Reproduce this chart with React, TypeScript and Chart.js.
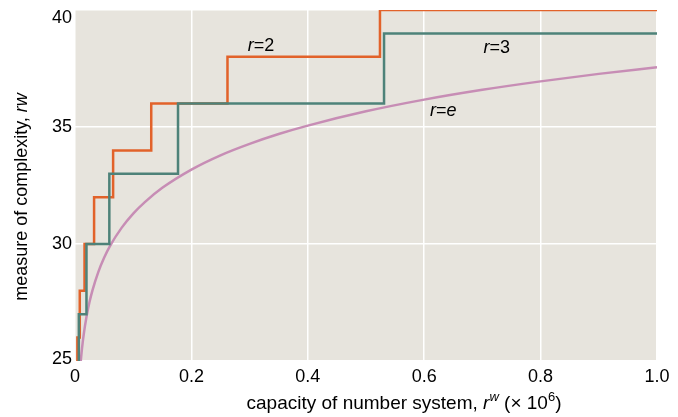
import React, { useEffect, useRef } from 'react';
import { Chart, registerables } from 'chart.js';

Chart.register(...registerables);

// r = 2 : capacity (x 10^6) at which complexity r*w rises to the listed value
const r2Capacity = [0, 0.0041, 0.0082, 0.0164, 0.0328, 0.0655, 0.131, 0.262, 0.524, 1.0];
const r2Complexity = [24, 26, 28, 30, 32, 34, 36, 38, 40, 40];

// r = 3
const r3Capacity = [0, 0.0066, 0.0197, 0.059, 0.177, 0.531, 1.0];
const r3Complexity = [24, 27, 30, 33, 36, 39, 39];

// r = e (smooth curve)
const reCapacity = [0.0099, 0.012, 0.015, 0.02, 0.025, 0.03, 0.04, 0.05, 0.06, 0.08, 0.1, 0.12, 0.15, 0.2, 0.25, 0.3, 0.35, 0.4, 0.5, 0.6, 0.7, 0.8, 0.9, 1.0];
const reComplexity = [25.0, 25.53, 26.14, 26.92, 27.53, 28.02, 28.8, 29.41, 29.91, 30.69, 31.3, 31.79, 32.4, 33.18, 33.79, 34.28, 34.7, 35.06, 35.67, 36.17, 36.59, 36.95, 37.27, 37.55];

const xTicks = [0, 0.2, 0.4, 0.6, 0.8, 1.0];
const xTickLabels = ['0', '0.2', '0.4', '0.6', '0.8', '1.0'];
const yTicks = [25, 30, 35, 40];
const yTickLabels = ['25', '30', '35', '40'];

const FONT = '"Liberation Sans", Arial, Helvetica, sans-serif';
const BG = '#e7e4dd';
const ORANGE = '#e2622a';
const TEAL = '#4e8279';
const PINK = '#c78db5';

type Seg = { t: string; i?: boolean; sup?: boolean };

function segFont(s: Seg, size: number) {
  const sz = s.sup ? Math.round(size * 0.7) : size;
  return `${s.i ? 'italic ' : ''}${sz}px ${FONT}`;
}

function drawRich(ctx: CanvasRenderingContext2D, segs: Seg[], x: number, y: number, size: number, align: 'left' | 'center') {
  let w = 0;
  for (const s of segs) {
    ctx.font = segFont(s, size);
    w += ctx.measureText(s.t).width;
  }
  let cx = align === 'center' ? x - w / 2 : x;
  ctx.textAlign = 'left';
  ctx.textBaseline = 'alphabetic';
  for (const s of segs) {
    ctx.font = segFont(s, size);
    ctx.fillText(s.t, cx, s.sup ? y - size * 0.4 : y);
    cx += ctx.measureText(s.t).width;
  }
}

const decorPlugin = {
  id: 'decor',
  beforeDraw(chart: any) {
    const { ctx, chartArea } = chart;
    ctx.save();
    ctx.fillStyle = BG;
    ctx.fillRect(chartArea.left, chartArea.top, chartArea.right - chartArea.left, chartArea.bottom - chartArea.top);
    ctx.restore();
  },
  afterDraw(chart: any) {
    const { ctx, chartArea } = chart;
    const xs = chart.scales.x;
    const ys = chart.scales.y;
    ctx.save();
    ctx.fillStyle = '#000';
    // y tick labels
    ctx.font = `18px ${FONT}`;
    ctx.textAlign = 'right';
    ctx.textBaseline = 'middle';
    yTicks.forEach((v, i) => {
      let p = ys.getPixelForValue(v);
      p = Math.min(Math.max(p, chartArea.top + 8), chartArea.bottom - 2);
      ctx.fillText(yTickLabels[i], chartArea.left - 3, p);
    });
    // x title
    drawRich(
      ctx,
      [
        { t: 'capacity of number system, ' },
        { t: 'r', i: true },
        { t: 'w', i: true, sup: true },
        { t: ' (\u00d7 10' },
        { t: '6', sup: true },
        { t: ')' },
      ],
      404,
      409,
      19,
      'center'
    );
    // y title
    ctx.save();
    ctx.translate(27, 197);
    ctx.rotate(-Math.PI / 2);
    drawRich(ctx, [{ t: 'measure of complexity, ' }, { t: 'rw', i: true }], 0, 0, 18, 'center');
    ctx.restore();
    // series annotations
    drawRich(ctx, [{ t: 'r', i: true }, { t: '=2' }], xs.getPixelForValue(0.297), ys.getPixelForValue(38.5) + 6, 18, 'left');
    drawRich(ctx, [{ t: 'r', i: true }, { t: '=3' }], xs.getPixelForValue(0.702), ys.getPixelForValue(38.41) + 6, 18, 'left');
    drawRich(ctx, [{ t: 'r', i: true }, { t: '=' }, { t: 'e', i: true }], xs.getPixelForValue(0.61), ys.getPixelForValue(35.71) + 6, 18, 'left');
    ctx.restore();
  },
};

export default function App() {
  const ref = useRef<HTMLCanvasElement | null>(null);
  useEffect(() => {
    document.body.style.margin = '0';
    const canvas = ref.current;
    if (!canvas) return;
    const toPts = (xs: number[], ys: number[]) => xs.map((x, i) => ({ x, y: ys[i] }));
    const chart = new Chart(canvas, {
      type: 'line',
      data: {
        datasets: [
          {
            label: 'r=3',
            data: toPts(r3Capacity, r3Complexity),
            borderColor: TEAL,
            borderWidth: 2.5,
            pointRadius: 0,
            stepped: 'before',
            fill: false,
            order: 0,
          },
          {
            label: 'r=2',
            data: toPts(r2Capacity, r2Complexity),
            borderColor: ORANGE,
            borderWidth: 2.5,
            pointRadius: 0,
            stepped: 'before',
            fill: false,
            order: 1,
          },
          {
            label: 'r=e',
            data: toPts(reCapacity, reComplexity),
            borderColor: PINK,
            borderWidth: 2.5,
            pointRadius: 0,
            cubicInterpolationMode: 'monotone',
            fill: false,
            order: 2,
          },
        ],
      },
      options: {
        animation: false,
        responsive: false,
        devicePixelRatio: 1,
        layout: { padding: { top: 10, right: 21, left: 0, bottom: 0 } },
        plugins: { legend: { display: false }, tooltip: { enabled: false } },
        scales: {
          x: {
            type: 'linear',
            min: 0,
            max: 1,
            afterFit: (s: any) => {
              s.height = 56;
            },
            afterBuildTicks: (s: any) => {
              s.ticks = xTicks.map((v) => ({ value: v }));
            },
            ticks: {
              autoSkip: false,
              maxRotation: 0,
              padding: 5,
              color: '#000',
              font: { size: 18, family: FONT },
              callback: (_v: any, i: number) => xTickLabels[i],
            },
            grid: { color: '#ffffff', lineWidth: 1.5, drawTicks: false },
            border: { display: false },
          },
          y: {
            type: 'linear',
            min: 25,
            max: 40,
            afterFit: (s: any) => {
              s.width = 75;
            },
            afterBuildTicks: (s: any) => {
              s.ticks = yTicks.map((v) => ({ value: v }));
            },
            ticks: { display: false },
            grid: { color: '#ffffff', lineWidth: 1.5, drawTicks: false },
            border: { display: false },
          },
        },
      },
      plugins: [decorPlugin],
    } as any);
    return () => chart.destroy();
  }, []);
  return (
    <div style={{ width: 678, height: 417 }}>
      <canvas ref={ref} width={678} height={417} style={{ display: 'block' }} />
    </div>
  );
}
